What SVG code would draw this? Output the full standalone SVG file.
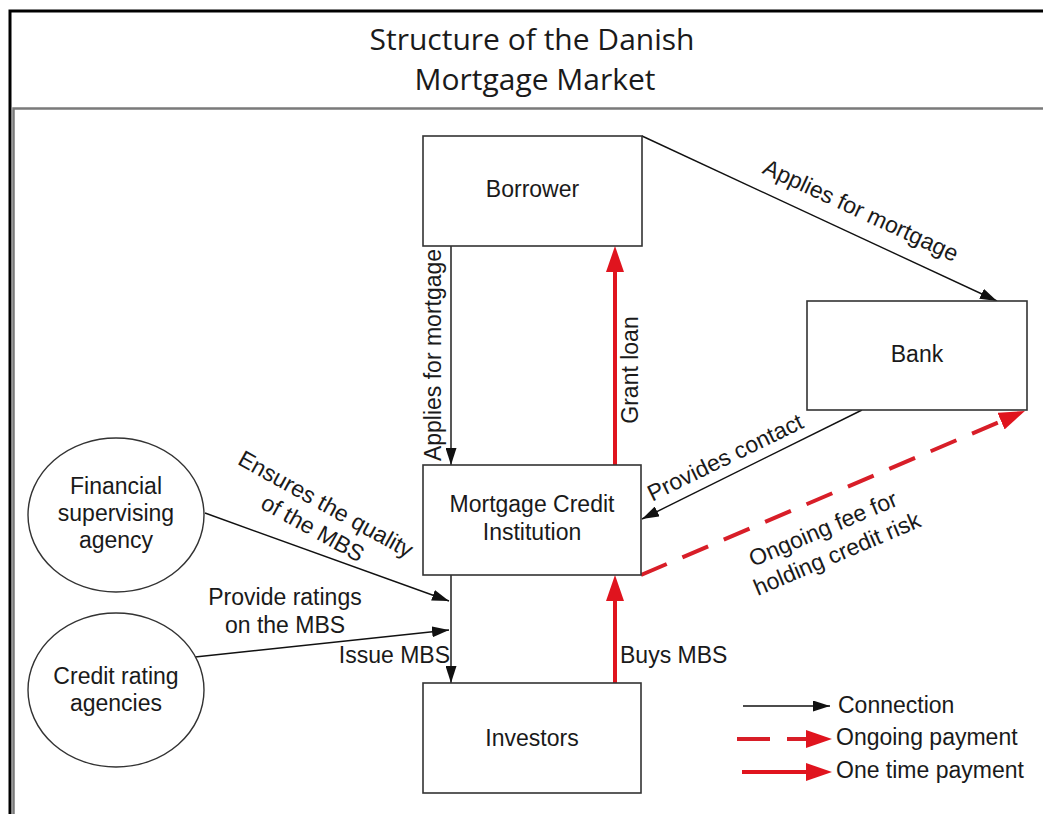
<svg xmlns="http://www.w3.org/2000/svg" width="1043" height="814" viewBox="0 0 1043 814">
<style>
.t{font-family:"Liberation Sans",Arial,sans-serif;font-size:23px;fill:#1a1a1a}
.m{text-anchor:middle}
.title{font-family:"Open Sans","Liberation Sans",sans-serif;font-size:30px;fill:#1a1a1a;text-anchor:middle}
.box{fill:#fff;stroke:#333;stroke-width:1.6}
.ell{fill:#fff;stroke:#333;stroke-width:1.4}
.c{stroke:#111;stroke-width:1.4;fill:none}
.r{stroke:#e0141e;stroke-width:4;fill:none}
.rd{stroke:#d81e28;stroke-width:4;fill:none;stroke-dasharray:28 17}
</style>
<defs>
<marker id="ab" markerUnits="userSpaceOnUse" markerWidth="17" markerHeight="11" refX="17" refY="5.5" orient="auto"><path d="M0,0 L17,5.5 L0,11 z" fill="#111"/></marker>
<marker id="ar" markerUnits="userSpaceOnUse" markerWidth="26" markerHeight="18" refX="18" refY="9" orient="auto"><path d="M0,0 L26,9 L0,18 z" fill="#e0141e"/></marker>
</defs>
<rect width="1043" height="814" fill="#fff"/>
<g id="frame">
<path d="M10,814 V11 H1043" fill="none" stroke="#000" stroke-width="3"/>
<path d="M13.5,814 V108.5 H1043" fill="none" stroke="#7a7a7a" stroke-width="2.5"/>
</g>
<g id="title">
<text class="title" x="532" y="50">Structure of the Danish</text>
<text class="title" x="535" y="90">Mortgage Market</text>
</g>
<g id="connectors">
<line class="c" x1="451" y1="246" x2="451" y2="465" marker-end="url(#ab)"/>
<line class="r" x1="615" y1="465" x2="615" y2="254" marker-end="url(#ar)"/>
<line class="c" x1="642" y1="136" x2="997" y2="301" marker-end="url(#ab)"/>
<line class="c" x1="862" y1="410" x2="642" y2="519" marker-end="url(#ab)"/>
<line class="rd" x1="641" y1="575" x2="1017.6" y2="414.1" marker-end="url(#ar)"/>
<line class="c" x1="205" y1="513" x2="449" y2="601" marker-end="url(#ab)"/>
<line class="c" x1="195" y1="657" x2="449" y2="630" marker-end="url(#ab)"/>
<line class="c" x1="451" y1="575" x2="451" y2="683" marker-end="url(#ab)"/>
<line class="r" x1="615" y1="683" x2="615" y2="583" marker-end="url(#ar)"/>
<text class="t m" transform="translate(441,355) rotate(-90)">Applies for mortgage</text>
<text class="t m" transform="translate(638,370) rotate(-90)">Grant loan</text>
<text class="t m" transform="translate(857.5,217.4) rotate(24.9)">Applies for mortgage</text>
<text class="t m" transform="translate(728.6,464.4) rotate(-26)">Provides contact</text>
<text class="t m" transform="translate(826,536) rotate(-23)">Ongoing fee for</text>
<text class="t m" transform="translate(840,561) rotate(-23)">holding credit risk</text>
<text class="t m" transform="translate(322,511) rotate(29)">Ensures the quality</text>
<text class="t m" transform="translate(309,535) rotate(29)">of the MBS</text>
<text class="t m" x="285" y="605">Provide ratings</text>
<text class="t m" x="285" y="633">on the MBS</text>
<text class="t" x="450" y="663" text-anchor="end">Issue MBS</text>
<text class="t" x="620" y="663">Buys MBS</text>
</g>
<g id="borrower">
<rect class="box" x="423" y="136" width="219" height="110"/>
<text class="t m" x="532.5" y="197">Borrower</text>
</g>
<g id="bank">
<rect class="box" x="807" y="301" width="220" height="109"/>
<text class="t m" x="917" y="362">Bank</text>
</g>
<g id="mci">
<rect class="box" x="423" y="465" width="218" height="110"/>
<text class="t m" x="532" y="512">Mortgage Credit</text>
<text class="t m" x="532" y="540">Institution</text>
</g>
<g id="investors">
<rect class="box" x="423" y="683" width="218" height="110"/>
<text class="t m" x="532" y="746">Investors</text>
</g>
<g id="fsa">
<ellipse class="ell" cx="116" cy="515" rx="88" ry="77"/>
<text class="t m" x="116" y="494">Financial</text>
<text class="t m" x="116" y="521">supervising</text>
<text class="t m" x="116" y="548">agency</text>
</g>
<g id="cra">
<ellipse class="ell" cx="116" cy="690" rx="88" ry="77"/>
<text class="t m" x="116" y="684">Credit rating</text>
<text class="t m" x="116" y="711">agencies</text>
</g>
<g id="legend">
<line class="c" x1="743" y1="706" x2="830" y2="706" marker-end="url(#ab)"/>
<line class="rd" x1="737" y1="739" x2="824" y2="739" style="stroke-dasharray:33 17" marker-end="url(#ar)"/>
<line class="r" x1="742" y1="772" x2="824" y2="772" marker-end="url(#ar)"/>
<text class="t" x="838" y="713">Connection</text>
<text class="t" x="836" y="745">Ongoing payment</text>
<text class="t" x="836" y="778">One time payment</text>
</g>
</svg>
